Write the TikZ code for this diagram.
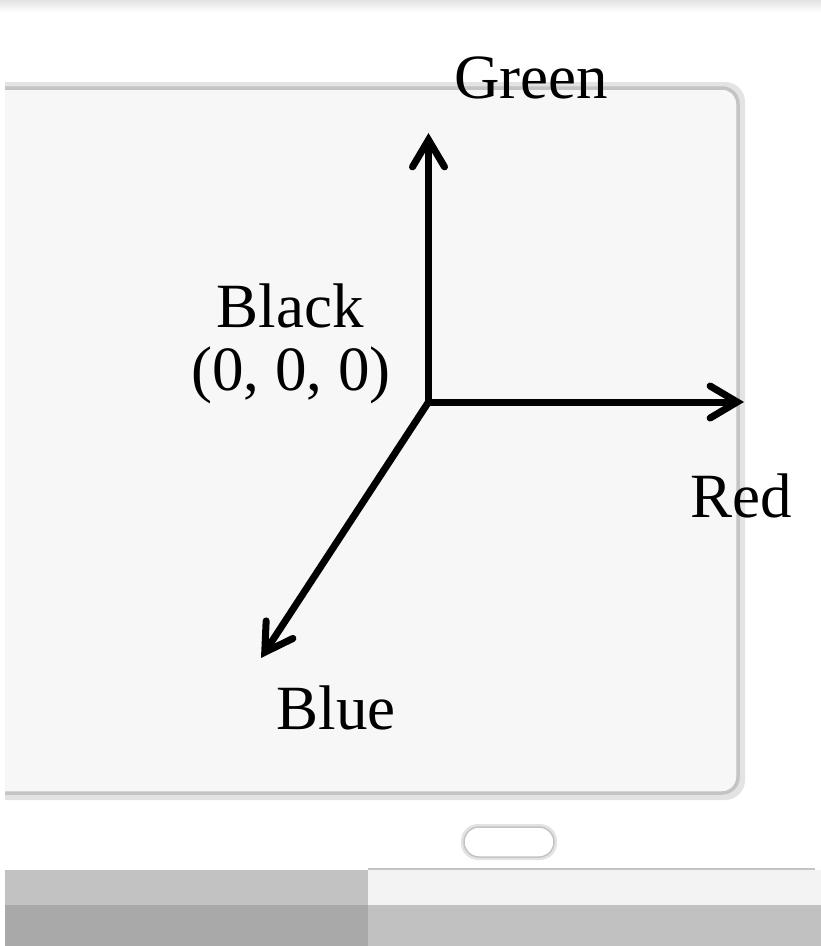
\documentclass[tikz,border=0pt]{standalone}
\usepackage{fontspec}
\setmainfont{Liberation Serif}
\usetikzlibrary{arrows.meta}
\definecolor{panelfill}{HTML}{F7F7F7}
\definecolor{edgedark}{HTML}{C4C4C4}
\definecolor{edgelight}{HTML}{E3E3E3}
\definecolor{stripa}{HTML}{C2C2C2}
\definecolor{stripb}{HTML}{A9A9A9}
\definecolor{stripc}{HTML}{F3F3F3}
\definecolor{stripd}{HTML}{C1C1C1}
\tikzset{
  axis/.style={line width=7pt, line cap=butt, -{Straight Barb[length=27pt,width=32pt,line cap=round,line join=miter]}},
  lbl/.style={anchor=base, inner sep=0pt, font=\fontsize{63}{70}\selectfont},
}
\begin{document}
\begin{tikzpicture}[x=1pt,y=-1pt]
\useasboundingbox (0,0) rectangle (821,946);
\fill[white] (0,0) rectangle (821,946);
% top strip
\shade[top color=edgelight, bottom color=white] (0,0) rectangle (821,12);
% panel
\begin{scope}
\clip (5,60) rectangle (821,820);
\draw[edgelight, line width=8pt, rounded corners=16pt] (-30,86) rectangle (741,796);
\draw[edgedark, line width=3.5pt, fill=panelfill, rounded corners=16pt] (-30,88) rectangle (738,793);
\end{scope}
% pill
\draw[edgelight, line width=4pt, rounded corners=15pt] (463,826) rectangle (555,858);
\draw[edgedark, line width=1.5pt, fill=white, rounded corners=15pt] (464,827) rectangle (554,857);
% bottom strips
\fill[stripa] (5,870) rectangle (368,905);
\fill[stripb] (5,905) rectangle (368,946);
\fill[stripc] (368,870) rectangle (821,905);
\fill[stripd] (368,905) rectangle (821,946);
\draw[edgedark, line width=2pt] (368,869) -- (815,869);
% axes
\coordinate (o) at (428.5,402);
\coordinate (g) at (428.5,133);
\coordinate (r) at (744,402);
\coordinate (b) at (261,658);
\draw[axis] ([yshift=-3.5pt]o) -- (g);
\draw[axis] ([xshift=-3.5pt]o) -- (r);
\draw[axis] (o) -- (b);
% labels
\node[lbl] (green) at (531,98) {Green};
\node[lbl] (black) at (290,327) {Black};
\node[lbl] (zero) at (291,390) {(0, 0, 0)};
\node[lbl] (red) at (741,517) {Red};
\node[lbl] (blue) at (336,729) {Blue};
\end{tikzpicture}
\end{document}
